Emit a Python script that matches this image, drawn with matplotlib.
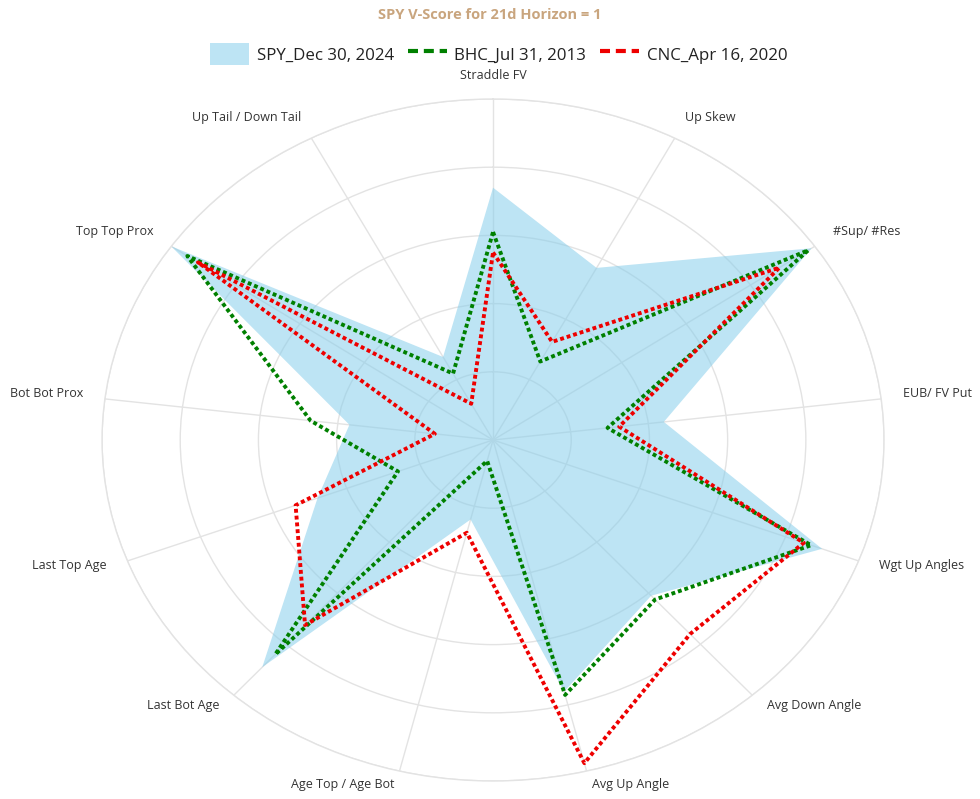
import numpy as np
import matplotlib.pyplot as plt
from matplotlib.patches import Patch
from matplotlib.lines import Line2D

# categorias del radar (sentido horario desde arriba)
categorias = ["Straddle FV", "Up Skew", "#Sup/ #Res", "EUB/ FV Put", "Wgt Up Angles",
              "Avg Down Angle", "Avg Up Angle", "Age Top / Age Bot", "Last Bot Age",
              "Last Top Age", "Bot Bot Prox", "Top Top Prox", "Up Tail / Down Tail"]

spy = [0.74, 0.57, 0.99, 0.44, 0.90, 0.61, 0.76, 0.24, 0.89, 0.48, 0.37, 1.00, 0.275]
bhc = [0.61, 0.26, 0.98, 0.295, 0.87, 0.625, 0.77, 0.063, 0.84, 0.26, 0.47, 0.95, 0.22]
cnc = [0.55, 0.325, 0.89, 0.325, 0.85, 0.76, 0.976, 0.28, 0.725, 0.54, 0.15, 0.917, 0.12]

etiquetas = ["SPY_Dec 30, 2024", "BHC_Jul 31, 2013", "CNC_Apr 16, 2020"]
titulo = "SPY V-Score for 21d Horizon = 1"

plt.rcParams['font.family'] = ['Open Sans', 'DejaVu Sans']

n = len(categorias)
angulos = np.arange(n) * 2 * np.pi / n
ang_c = np.append(angulos, angulos[0])

def cerrar(v):
    return np.append(v, v[0])

fig = plt.figure(figsize=(9.8, 7.99), dpi=100)
ax = fig.add_axes([0.1041, 0.0225, 0.798, 0.8536], projection='polar')
ax.set_aspect('auto')
ax.set_theta_zero_location('N')
ax.set_theta_direction(-1)
ax.set_ylim(0, 1)

# rejilla
ax.set_rgrids([0.2, 0.4, 0.6, 0.8, 1.0], labels=[])
ax.set_thetagrids(np.degrees(angulos), labels=[])
ax.grid(True, color='#e3e3e3', lw=1)
ax.spines['polar'].set_color('#e3e3e3')
ax.spines['polar'].set_linewidth(1)
ax.tick_params(length=0)

ax.fill(ang_c, cerrar(spy), color='skyblue', alpha=0.55, lw=0, zorder=2)
ax.plot(ang_c, cerrar(bhc), color='#008000', lw=2.8, dashes=(1, 0.75), zorder=3)
ax.plot(ang_c, cerrar(cnc), color='#ee0000', lw=2.8, dashes=(1, 0.75), zorder=4)

# etiquetas de las categorias
for a, nombre in zip(angulos, categorias):
    s, c = np.sin(a), np.cos(a)
    dx = 22 * s
    dy = 20 * c + 3 if c > 0 else 14 * c
    if abs(s) < 0.05:
        ha = 'center'
    elif s > 0:
        ha = 'left'
    else:
        ha = 'right'
    ax.annotate(nombre, xy=(a, 1.0), xytext=(dx, dy), textcoords='offset pixels',
                ha=ha, va='center', fontsize=9, color='#333333',
                annotation_clip=False)

fig.text(0.5, 1 - 15 / 799, titulo, ha='center', va='center', fontsize=10.5,
         fontweight='bold', color='#C9A57E')

handles = [Patch(facecolor='skyblue', alpha=0.55, edgecolor='none'),
           Line2D([], [], color='#008000', lw=3, dashes=(2.4, 1.4)),
           Line2D([], [], color='#ee0000', lw=3, dashes=(2.4, 1.4))]
fig.legend(handles, etiquetas, loc='center', bbox_to_anchor=(0.509, 1 - 54 / 799),
           ncol=3, frameon=False, fontsize=12.2, handlelength=2.3, handleheight=1.6,
           handletextpad=0.45, columnspacing=0.8, labelcolor='#222222')

fig.savefig('out.png', dpi=100)
